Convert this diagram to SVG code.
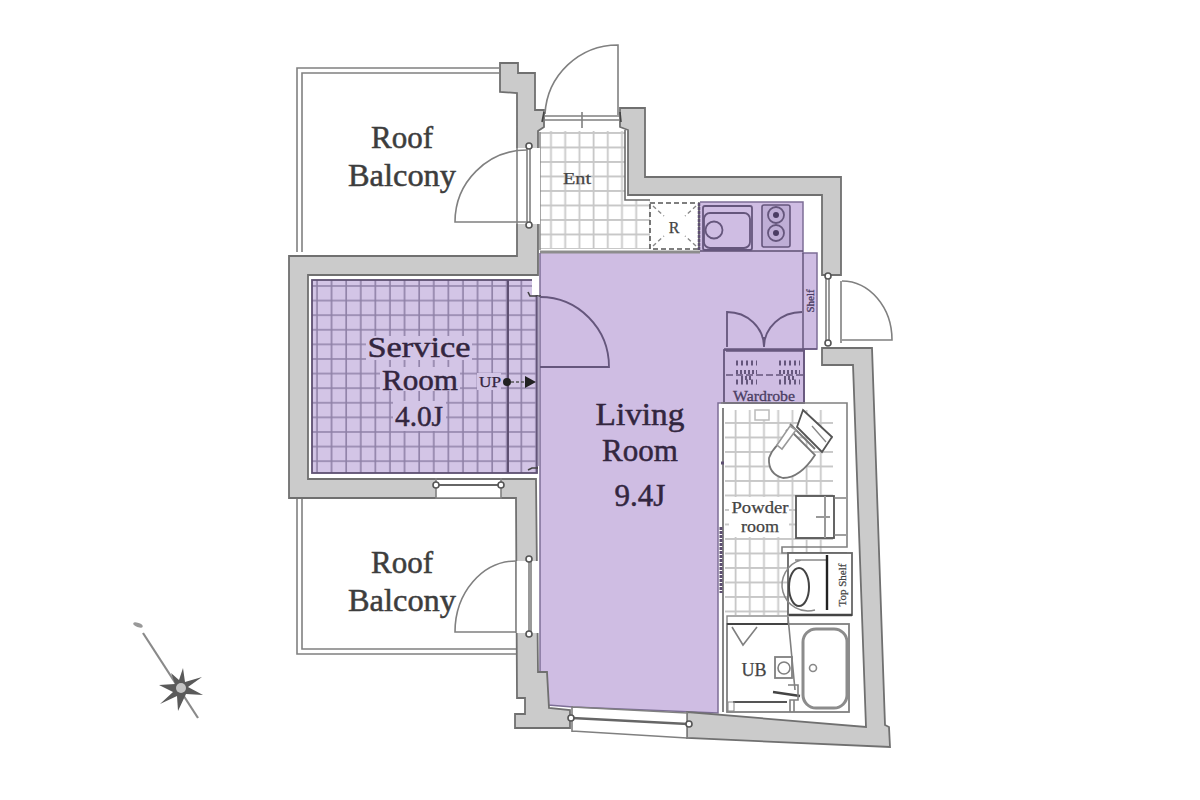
<svg xmlns="http://www.w3.org/2000/svg" width="1200" height="800" viewBox="0 0 1200 800">
<style>
.wall{fill:#cbcbcb;stroke:#707070;stroke-width:1.8;stroke-linejoin:miter}
.ln{fill:none;stroke:#808080;stroke-width:1.6}
.lp{fill:none;stroke:#65567c;stroke-width:1.8}
.dk{fill:none;stroke:#444;stroke-width:1.6}
.big{font-family:"Liberation Serif","Times New Roman",serif;font-size:31px;text-anchor:middle;stroke-width:.5}
.g{fill:#3d3d3d;stroke:#3d3d3d}
.p{fill:#33263f;stroke:#33263f}
.sm{font-family:"Liberation Serif","Times New Roman",serif;font-size:16px;text-anchor:middle;fill:#444;stroke:#444;stroke-width:.25}
.sp{font-family:"Liberation Serif","Times New Roman",serif;text-anchor:middle;fill:#4b3d63;stroke:#4b3d63;stroke-width:.3}
</style>
<defs>
<pattern id="tileP" width="14.6" height="14.6" patternUnits="userSpaceOnUse" x="312" y="285">
<rect width="14.6" height="14.6" fill="#d3c5e6"/>
<path d="M0 1H14.6M5 0V14.6" stroke="#8e80a6" stroke-width="1.6" fill="none"/>
</pattern>
<pattern id="tileW" width="14.2" height="14.5" patternUnits="userSpaceOnUse" x="540" y="132">
<path d="M0 1H14.2M11 0V14.5" stroke="#c8c8c8" stroke-width="1.8" fill="none"/>
</pattern>
<filter id="soft" x="-20%" y="-20%" width="140%" height="140%"><feGaussianBlur stdDeviation=".7"/></filter>
</defs>
<rect width="1200" height="800" fill="#fff"/>

<g id="floors">
<rect x="540" y="131" width="85" height="118" fill="url(#tileW)"/>
<rect x="625" y="200" width="25" height="49" fill="url(#tileW)"/>
<rect x="725" y="410" width="108" height="205" fill="url(#tileW)"/>
<path d="M700 202H803V253H817V349H804V403H718V713L573 707 548 705 546 672 540 672V253H700Z" fill="#cfbde3"/>
<path d="M540 252H700" stroke="#8d8d8d" stroke-width="3"/>
<path d="M700 202H803V253H817V349H804V403H718V713L573 707 548 705 546 672 540 672V253" fill="none" stroke="#7d6e96" stroke-width="1.5"/>
<rect x="312" y="280" width="225" height="193" fill="url(#tileP)" stroke="#5e5072" stroke-width="1.8"/>
<rect x="366" y="336" width="106" height="24" fill="#d3c5e6"/>
<rect x="380" y="367" width="80" height="24" fill="#d3c5e6"/>
<rect x="393" y="401" width="53" height="30" fill="#d3c5e6"/>
<rect x="477" y="373" width="24" height="17" fill="#d3c5e6"/>
<path d="M508 280V473" stroke="#5e5072" stroke-width="2"/>
</g>

<g id="balconies">
<path class="ln" d="M297 252V68H499M302 252V73H499"/>
<path class="ln" d="M297 499V654H516M302 499V649H516"/>
</g>

<g id="walls">
<path class="wall" d="M500 63H518V73H535V110H544V127L538 131V275H308V479H536L538 672H547L549 708 570 710V728H515V714H525V698H517L516 498H289V256H517V93L500 92Z"/>
<path class="wall" d="M620 108H645V177H841V275H822V195H628V130L620 127Z"/>
<path class="wall" d="M822 348H872L885 725 889 727 890 747 687 738V712L866 727 853 365H822Z"/>
<path d="M625 130V200H650" fill="none" stroke="#6b6b6b" stroke-width="1.6"/>
<path d="M540 132V250" stroke="#8a8a8a" stroke-width="1.5"/>
</g>

<g id="windows">
<rect x="516" y="148" width="24" height="76" fill="#fff"/>
<path class="ln" d="M517 148V224M527 148V224M530 148V224"/>
<circle cx="529" cy="146" r="3" fill="#fff" stroke="#555" stroke-width="1.6"/>
<circle cx="529" cy="225" r="3" fill="#fff" stroke="#555" stroke-width="1.6"/>
<rect x="516" y="561" width="23" height="72" fill="#fff"/>
<path class="ln" d="M516 561V633M529 561V633M531 561V633"/>
<circle cx="529" cy="559" r="3" fill="#fff" stroke="#555" stroke-width="1.6"/>
<circle cx="529" cy="634" r="3" fill="#fff" stroke="#555" stroke-width="1.6"/>
<rect x="822" y="277" width="20" height="66" fill="#fff"/>
<path class="ln" d="M826 277V343M829 277V343M841 281V343"/>
<circle cx="828" cy="276" r="3" fill="#fff" stroke="#555" stroke-width="1.6"/>
<circle cx="828" cy="343" r="3" fill="#fff" stroke="#555" stroke-width="1.6"/>
<rect x="436" y="480" width="65" height="18" fill="#fff"/>
<path class="ln" d="M436 498H501M436 478V499M501 478V499"/>
<path d="M437 485H501" stroke="#666" stroke-width="2"/>
<circle cx="436" cy="485" r="3" fill="#fff" stroke="#555" stroke-width="1.6"/>
<circle cx="501" cy="485" r="3" fill="#fff" stroke="#555" stroke-width="1.6"/>
<path d="M572 708 687 713V738L572 731Z" fill="#fff"/>
<path class="ln" d="M572 707 687 713M572 731 687 738M572 706V732M687 712V739"/>
<path d="M572 718 688 724" stroke="#666" stroke-width="2.4"/>
<circle cx="571" cy="718" r="3" fill="#fff" stroke="#555" stroke-width="1.6"/>
<circle cx="689" cy="724" r="3" fill="#fff" stroke="#555" stroke-width="1.6"/>
<rect x="532" y="276" width="6" height="19" fill="#fff"/>
<path class="dk" d="M528 292 530 296H541"/>
<path class="dk" d="M528 470 532 468H538"/>
<path d="M538 296V466" stroke="#8e80a6" stroke-width="1.4"/>
</g>

<g id="doors">
<path class="ln" d="M618 115V45A73 73 0 0 0 545 114"/>
<path class="ln" d="M544 116H619M544 120H619M582 112V128"/>
<path class="dk" d="M544 112 542 122M620 112 621 122"/>
<path class="ln" d="M527 150A72 72 0 0 0 455 222H527"/>
<path class="ln" d="M516 561A61 71 0 0 0 455 632H516"/>
<path class="ln" d="M842 281A50 59 0 0 1 892 340H842"/>
<path class="lp" d="M540 297A69 70 0 0 1 609 367H540" stroke-width="2.2"/>
<path class="lp" d="M727 347V312A37 35 0 0 1 764 347M764 347V337M764 347A38 35 0 0 1 802 312"/>
</g>

<g id="kitchen">
<rect x="650" y="203" width="49" height="46" fill="none" stroke="#555" stroke-width="1.6" stroke-dasharray="5 3"/>
<path d="M653 206 664 216M696 206 685 216M653 246 664 236M696 246 685 236" stroke="#888" stroke-width="1.4" stroke-dasharray="4 3"/>
<path d="M699 203V250" stroke="#5e5072" stroke-width="2.5" stroke-dasharray="3 1"/>
<path d="M700 251H803" stroke="#5e5072" stroke-width="1.5"/>
<rect x="703" y="206" width="49" height="44" rx="2" class="lp" stroke-width="1.5"/>
<rect x="704" y="213" width="46" height="35" rx="6" class="lp" stroke-width="1.5"/>
<circle cx="714" cy="230" r="8.5" class="lp" stroke-width="1.5"/>
<rect x="762" y="205" width="28" height="42" rx="2" fill="#bfaed6" stroke="#65567c" stroke-width="1.6"/>
<circle cx="776" cy="215" r="8" class="lp"/><circle cx="776" cy="215" r="3" fill="#4b3d63"/>
<circle cx="776" cy="233" r="8" class="lp"/><circle cx="776" cy="233" r="3" fill="#4b3d63"/>
<path d="M803 253V349M724 349H817M726 351H804" stroke="#65567c" stroke-width="1.5"/>
</g>

<g id="wardrobe">
<rect x="724" y="350" width="80" height="53" fill="none" stroke="#65567c" stroke-width="1.8"/>
<path d="M726 375H803" stroke="#65567c" stroke-width="1.5" stroke-dasharray="7 3"/>
<path d="M736 363H757M779 363H800M736 382H757M779 382H800" stroke="#65567c" stroke-width="5" stroke-dasharray="2 3"/>
<path d="M736 372H757M779 372H800M741 378H752M784 378H796" stroke="#65567c" stroke-width="4" stroke-dasharray="2 2"/>
</g>

<g id="bath">
<path class="ln" d="M721 403H847V547H782V553H847" stroke-width="2"/>
<path d="M723 408V712" stroke="#777" stroke-width="1.8"/>
<path d="M721 463H725M721 527V593" stroke="#5e5072" stroke-width="3" stroke-dasharray="3 1"/>
<rect x="755" y="410" width="14" height="10" fill="#fff" stroke="#bbb" stroke-width="1.5"/>
<path d="M803 410 832 437 822 452 797 427Z" fill="#fff" stroke="#555" stroke-width="1.8"/>
<path d="M790 424 815 449M786 430 811 455" stroke="#777" stroke-width="1.8"/>
<path d="M812 426 826 442" stroke="#888" stroke-width="1.4"/>
<path d="M793 433 815 455Q800 478 783 478 768 474 769 458 774 444 793 433Z" fill="#fff" stroke="#777" stroke-width="1.8"/>
<path d="M777 445 790 426 796 430 782 449Z" fill="#fff" stroke="#999" stroke-width="1.6"/>
<rect x="729" y="497" width="60" height="40" fill="#fff"/>
<rect x="796" y="496" width="38" height="42" fill="#fff" stroke="#555" stroke-width="1.8"/>
<path d="M825 496V538M816 517H830" stroke="#999" stroke-width="2"/>
<path class="ln" d="M834 498H846M834 535H846"/>
<rect x="788" y="553" width="64" height="62" fill="#fff" stroke="#666" stroke-width="1.8"/>
<ellipse cx="799" cy="587" rx="10" ry="19" fill="none" stroke="#444" stroke-width="2"/>
<path d="M801 560A24 24 0 0 0 815 610M795 560H826" stroke="#888" stroke-width="1.5" fill="none"/>
<path d="M827 555V610" stroke="#222" stroke-width="2.4"/>
<path d="M789 615H852" stroke="#444" stroke-width="2.6"/>
<rect x="727" y="616" width="61" height="8" fill="#fff" stroke="#888" stroke-width="1.4"/>
<rect x="727" y="624" width="122" height="88" fill="none" stroke="#808080" stroke-width="1.8"/>
<path d="M727 624H788" stroke="#444" stroke-width="2"/>
<path class="ln" d="M732 627 743 645 757 627"/>
<path class="ln" d="M788 617 795 690"/>
<rect x="775" y="657" width="17" height="21" fill="none" stroke="#808080" stroke-width="1.8"/>
<circle cx="784" cy="668" r="6" fill="none" stroke="#808080" stroke-width="1.6"/>
<rect x="803" y="629" width="44" height="79" rx="13" fill="none" stroke="#8c8c8c" stroke-width="3"/>
<circle cx="813" cy="668" r="3.5" fill="none" stroke="#888" stroke-width="1.6"/>
<path d="M773 692 800 696" stroke="#444" stroke-width="2.4"/>
<path class="ln" d="M788 685H798V700H790V712M794 700V712"/>
<path d="M733 702H787" stroke="#555" stroke-width="1.8"/>
<rect x="728" y="702" width="6" height="9" fill="none" stroke="#888"/>
</g>

<g id="stair">
<circle cx="507" cy="382" r="4" fill="#222"/>
<path d="M511 382H526" stroke="#555" stroke-width="1.4" stroke-dasharray="3 2"/>
<path d="M525 376 536 382 525 388Z" fill="#222"/>
</g>

<g id="compass" filter="url(#soft)">
<path d="M143 633 198 718" stroke="#8a8a8a" stroke-width="2.2"/>
<ellipse cx="138" cy="625" rx="5" ry="2" fill="#999" transform="rotate(20 138 625)"/>
<path d="M183 668 185 682 202 677 188 687 203 695 186 694 178 711 177 696 160 704 173 692 159 685 175 684 171 673 179 680Z" fill="#5a5a5a"/>
<circle cx="181" cy="688" r="5" fill="#c4c4c4"/>
</g>

<g id="labels">
<text class="big g" x="402" y="148">Roof</text>
<text class="big g" x="402" y="186" textLength="108" lengthAdjust="spacingAndGlyphs">Balcony</text>
<text class="big g" x="402" y="573">Roof</text>
<text class="big g" x="402" y="611" textLength="108" lengthAdjust="spacingAndGlyphs">Balcony</text>
<text class="big p" x="419" y="357" style="font-size:30px" textLength="103" lengthAdjust="spacingAndGlyphs">Service</text>
<text class="big p" x="420" y="390" style="font-size:30px" textLength="76" lengthAdjust="spacingAndGlyphs">Room</text>
<text class="big p" x="419" y="426" style="font-size:30px" textLength="48" lengthAdjust="spacingAndGlyphs">4.0J</text>
<text class="big p" x="640" y="425" textLength="89" lengthAdjust="spacingAndGlyphs">Living</text>
<text class="big p" x="640" y="461">Room</text>
<text class="big p" x="640" y="506">9.4J</text>
<text class="sm" x="577" y="184" textLength="28" lengthAdjust="spacingAndGlyphs">Ent</text>
<text class="sm" x="674" y="233">R</text>
<text class="sm" x="490" y="387" style="fill:#33263f;stroke:#33263f;font-size:15px" textLength="22" lengthAdjust="spacingAndGlyphs">UP</text>
<text class="sp" x="764" y="401" font-size="15" textLength="62" lengthAdjust="spacingAndGlyphs">Wardrobe</text>
<text class="sp" font-size="11" transform="translate(814 301) rotate(-90)">Shelf</text>
<text class="sm" x="760" y="513" textLength="57" lengthAdjust="spacingAndGlyphs">Powder</text>
<text class="sm" x="760" y="532" textLength="38" lengthAdjust="spacingAndGlyphs">room</text>
<text class="sm" style="font-size:11px" transform="translate(846 585) rotate(-90)">Top Shelf</text>
<text class="sm" x="754" y="676" style="font-size:18px">UB</text>
</g>
</svg>
